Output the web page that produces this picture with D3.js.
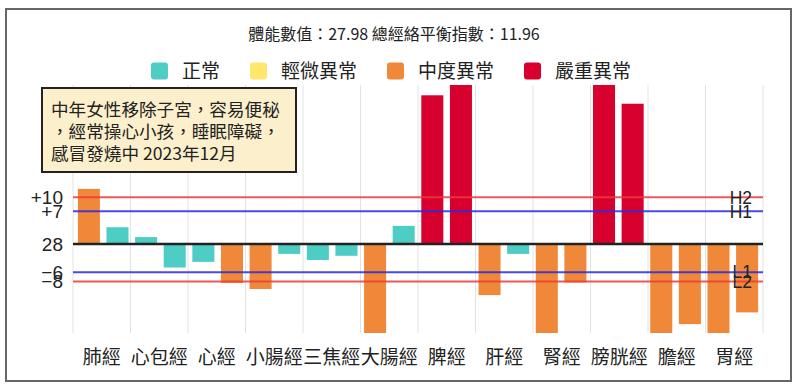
<!DOCTYPE html>
<html>
<head>
<meta charset="utf-8">
<script src="https://cdn.jsdelivr.net/npm/d3@7"></script>
<style>
  body { margin: 0; background: #fff; }
  svg text { font-family: "Noto Sans CJK TC", "Noto Sans", sans-serif; fill: #222; }
  .num { font-family: "Liberation Sans", Arial, sans-serif; }
</style>
</head>
<body>
<div id="vis"></div>
<script>
const W = 800, H = 390;

// data
const meridians = ["肺經", "心包經", "心經", "小腸經", "三焦經", "大腸經", "脾經", "肝經", "腎經", "膀胱經", "膽經", "胃經"];
const leftValues  = [11.8, 1.5, -3.8, -9.6, -3.4, -22, 31.8, -10.9, -22, 36, -22, -22];
const rightValues = [3.6, -5.0, -8.3, -2.1, -2.5, 3.9, 36, -2.1, -8.2, 30.0, -17.1, -14.6];
const levels = ["正常", "輕微異常", "中度異常", "嚴重異常"];
const levelColors = ["#4ecdc4", "#ffe66d", "#f0883a", "#d7002f"];
const leftLevels  = [2, 0, 0, 2, 0, 2, 3, 2, 2, 3, 2, 2];
const rightLevels = [0, 0, 2, 0, 0, 0, 3, 0, 2, 3, 2, 2];
const baseLabel = "28";
const refNames = ["H2", "H1", "L1", "L2"];
const refValues = [10, 7, -6, -8];
const refLabels = ["+10", "+7", "−6", "−8"];
const refColors = ["#f03a3a", "#2a2ae0", "#2a2ae0", "#f03a3a"];
const titleText = "體能數值：27.98 總經絡平衡指數：11.96";
const noteLines = ["中年女性移除子宮，容易便秘", "，經常操心小孩，睡眠障礙，", "感冒發燒中 2023年12月"];

const bars = [];
meridians.forEach((m, i) => {
  bars.push({ key: m + "-L", m, v: leftValues[i], lvl: leftLevels[i] });
  bars.push({ key: m + "-R", m, v: rightValues[i], lvl: rightLevels[i] });
});

const plot = { left: 73, right: 763, top: 85, bottom: 333 };

const svg = d3.select("#vis").append("svg")
    .attr("width", W)
    .attr("height", H);

// outer frame
svg.append("rect")
    .attr("x", 6).attr("y", 9)
    .attr("width", 785).attr("height", 372)
    .attr("fill", "#fff")
    .attr("stroke", "#666")
    .attr("stroke-width", 2);

const x = d3.scaleBand()
    .domain(bars.map(d => d.key))
    .range([plot.left, plot.right])
    .paddingInner(0.23)
    .paddingOuter(0.17);

const xg = d3.scaleBand()
    .domain(meridians)
    .range([plot.left, plot.right]);

const y = d3.scaleLinear()
    .domain([-19, 34])
    .range([plot.bottom, plot.top]);

// vertical grid
const gridX = meridians.map(m => xg(m)).concat([plot.right]);
svg.append("g").selectAll("line")
    .data(gridX)
    .join("line")
    .attr("x1", d => d).attr("x2", d => d)
    .attr("y1", plot.top).attr("y2", plot.bottom)
    .attr("stroke", "#e2e2e2")
    .attr("stroke-width", 1);

svg.append("clipPath").attr("id", "clip")
  .append("rect")
    .attr("x", plot.left).attr("y", plot.top)
    .attr("width", plot.right - plot.left)
    .attr("height", plot.bottom - plot.top);

svg.append("g")
    .attr("clip-path", "url(#clip)")
  .selectAll("rect")
  .data(bars)
  .join("rect")
    .attr("x", d => x(d.key))
    .attr("width", x.bandwidth())
    .attr("y", d => y(Math.max(0, d.v)))
    .attr("height", d => Math.abs(y(d.v) - y(0)))
    .attr("fill", d => levelColors[d.lvl]);

// reference lines
svg.append("g").selectAll("line")
    .data(refValues)
    .join("line")
    .attr("x1", plot.left).attr("x2", plot.right)
    .attr("y1", d => y(d)).attr("y2", d => y(d))
    .attr("stroke", (d, i) => refColors[i])
    .attr("stroke-opacity", 0.85)
    .attr("stroke-width", 2);

// baseline
svg.append("line")
    .attr("x1", plot.left).attr("x2", plot.right)
    .attr("y1", y(0)).attr("y2", y(0))
    .attr("stroke", "#222")
    .attr("stroke-width", 2.5);

// left labels (they overlap in the original too)
const yLabels = [{ v: 0, t: baseLabel }].concat(refValues.map((v, i) => ({ v, t: refLabels[i] })));
svg.append("g").selectAll("text")
    .data(yLabels)
    .join("text")
    .attr("class", "num")
    .attr("x", 63)
    .attr("y", d => y(d.v))
    .attr("dy", "0.36em")
    .attr("text-anchor", "end")
    .attr("font-size", 19)
    .text(d => d.t);

// right labels
svg.append("g").selectAll("text")
    .data(refValues)
    .join("text")
    .attr("class", "num")
    .attr("x", 752)
    .attr("y", d => y(d))
    .attr("dy", "0.36em")
    .attr("text-anchor", "end")
    .attr("font-size", 17.5)
    .text((d, i) => refNames[i]);

// x labels
svg.append("g").selectAll("text")
    .data(meridians)
    .join("text")
    .attr("x", d => xg(d) + xg.bandwidth() / 2)
    .attr("y", 357)
    .attr("dy", "0.35em")
    .attr("text-anchor", "middle")
    .attr("font-size", 19)
    .text(d => d);

// title
svg.append("text")
    .attr("x", 394)
    .attr("y", 34)
    .attr("dy", "0.35em")
    .attr("text-anchor", "middle")
    .attr("font-size", 16)
    .text(titleText);

// legend
const legend = svg.append("g");
let lx = 0;
levels.forEach((name, i) => {
  const g = legend.append("g").attr("transform", `translate(${lx},0)`);
  g.append("rect")
      .attr("x", 0).attr("y", -8.5)
      .attr("width", 17).attr("height", 17)
      .attr("rx", 3)
      .attr("fill", levelColors[i]);
  const t = g.append("text")
      .attr("x", 31)
      .attr("dy", "0.35em")
      .attr("font-size", 19)
      .text(name);
  lx += 31 + t.node().getComputedTextLength() + 30;
});
const legendW = lx - 30;
legend.attr("transform", `translate(${391 - legendW / 2},71)`);

// note box
svg.append("rect")
    .attr("x", 42).attr("y", 88)
    .attr("width", 254).attr("height", 84)
    .attr("fill", "#fcefcb")
    .attr("stroke", "#222")
    .attr("stroke-width", 2);

svg.append("g").selectAll("text")
    .data(noteLines)
    .join("text")
    .attr("x", 51)
    .attr("y", (d, i) => 110 + i * 22)
    .attr("dy", "0.35em")
    .attr("font-size", 17.6)
    .attr("fill", "#333")
    .text(d => d);
</script>
</body>
</html>
